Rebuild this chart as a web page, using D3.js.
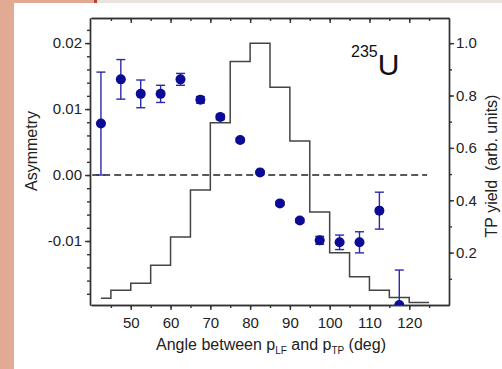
<!DOCTYPE html>
<html>
<head>
<meta charset="utf-8">
<script src="https://cdn.jsdelivr.net/npm/d3@7"></script>
<style>
  body { margin:0; background:#fff; }
  svg { display:block; font-family:"Liberation Sans", Arial, sans-serif; }
  .axis path, .axis line { stroke:#333; stroke-width:1.4; }
  .axis text { font-size:15px; fill:#222; font-family:"Liberation Sans", Arial, sans-serif; }
</style>
</head>
<body>
<script>
// asymmetry points (angle bin centres)
var angles = [42.5,47.5,52.5,57.5,62.5,67.5,72.5,77.5,82.5,87.5,92.5,97.5,102.5,107.5,112.5,117.5];
var asym   = [0.0078,0.0145,0.0123,0.0123,0.0145,0.0114,0.0088,0.0053,0.0004,-0.0043,-0.0069,-0.0099,-0.0102,-0.0102,-0.0054,-0.0197];
var asymErr= [0.0078,0.0030,0.0021,0.0013,0.0009,0.0005,0.0004,0.0003,0.0002,0.0003,0.0003,0.0006,0.0011,0.0016,0.0028,0.0053];

// TP yield histogram, bin starts (last bin ends at histEnd)
var histStart = [42.5,45,50,55,60,65,70,75,80,85,90,95,100,105,110,115,120];
var histYield = [0.026,0.056,0.083,0.152,0.26,0.439,0.696,0.93,1.0,0.832,0.626,0.355,0.2,0.108,0.056,0.029,0.01];
var histEnd = 125;

var xTicks = [50,60,70,80,90,100,110,120];
var yTicks = [-0.01,0.00,0.01,0.02];
var y2Ticks = [0.2,0.4,0.6,0.8,1.0];

var width = 502, height = 369;
var margin = {left:90, right:53, top:18, bottom:64};

var svg = d3.select("body").append("svg")
    .attr("width", width)
    .attr("height", height);

// page frame bits
svg.append("rect").attr("x",0).attr("y",0).attr("width",14).attr("height",height).attr("fill","#e2a993");
svg.append("rect").attr("x",0).attr("y",0).attr("width",94).attr("height",3).attr("fill","#e2a993");
svg.append("rect").attr("x",94).attr("y",0).attr("width",3).attr("height",3).attr("fill","#b5442f");
svg.append("rect").attr("x",97).attr("y",0).attr("width",width-97).attr("height",3).attr("fill","#e9e4dc");

var x = d3.scaleLinear().domain([40,130]).range([margin.left+1, width-margin.right]);
var y = d3.scaleLinear().domain([-0.0197,0.0238]).range([height-margin.bottom, margin.top]);
var y2 = d3.scaleLinear().domain([0,1.096]).range([height-margin.bottom, margin.top]);

// plain hyphen for negatives like the original
var fmt2 = function(d){ return d3.format(".2f")(d).replace("\u2212","-"); };

// axes
var xMinor = d3.range(45,130,5);
var yMinor = d3.range(-0.018,0.0232,0.002);
var y2Minor = d3.range(0.1,1.05,0.1);

svg.append("g").attr("class","axis")
    .attr("transform","translate(0,"+(height-margin.bottom)+")")
    .call(d3.axisBottom(x).tickValues(xMinor).tickSize(3).tickSizeOuter(0).tickFormat(""));
svg.append("g").attr("class","axis")
    .attr("transform","translate(0,"+(height-margin.bottom)+")")
    .call(d3.axisBottom(x).tickValues(xTicks).tickSize(5).tickSizeOuter(0).tickPadding(7));

svg.append("g").attr("class","axis")
    .attr("transform","translate(0,"+margin.top+")")
    .call(d3.axisTop(x).tickValues(xMinor).tickSize(-3).tickSizeOuter(0).tickFormat(""));
svg.append("g").attr("class","axis")
    .attr("transform","translate(0,"+margin.top+")")
    .call(d3.axisTop(x).tickValues(xTicks).tickSize(-5).tickSizeOuter(0).tickFormat(""));

svg.append("g").attr("class","axis")
    .attr("transform","translate("+margin.left+",0)")
    .call(d3.axisLeft(y).tickValues(yMinor).tickSize(3).tickSizeOuter(0).tickFormat(""));
svg.append("g").attr("class","axis")
    .attr("transform","translate("+margin.left+",0)")
    .call(d3.axisLeft(y).tickValues(yTicks).tickSize(5).tickSizeOuter(0).tickPadding(3).tickFormat(fmt2));

svg.append("g").attr("class","axis")
    .attr("transform","translate("+(width-margin.right)+",0)")
    .call(d3.axisRight(y2).tickValues(y2Minor).tickSize(3).tickSizeOuter(0).tickFormat(""));
svg.append("g").attr("class","axis")
    .attr("transform","translate("+(width-margin.right)+",0)")
    .call(d3.axisRight(y2).tickValues(y2Ticks).tickSize(5).tickSizeOuter(0).tickPadding(2).tickFormat(d3.format(".1f")));

// clip to plot area
svg.append("clipPath").attr("id","plot")
  .append("rect")
    .attr("x",margin.left).attr("y",margin.top)
    .attr("width",width-margin.right-margin.left)
    .attr("height",height-margin.bottom-margin.top);

var plot = svg.append("g").attr("clip-path","url(#plot)");

// histogram step line
var histPts = histStart.map(function(d,i){ return [d, histYield[i]]; });
histPts.push([histEnd, histYield[histYield.length-1]]);
var step = d3.line()
    .x(function(d){ return x(d[0]); })
    .y(function(d){ return y2(d[1]); })
    .curve(d3.curveStepAfter);
plot.append("path")
    .attr("d", step(histPts))
    .attr("fill","none")
    .attr("stroke","#444")
    .attr("stroke-width",1.5);

// zero dashed line
plot.append("line")
    .attr("x1",x(40.3)).attr("x2",x(124.5))
    .attr("y1",y(0)).attr("y2",y(0))
    .attr("stroke","#222")
    .attr("stroke-width",1.4)
    .attr("stroke-dasharray","7,4");

// error bars
var eb = plot.selectAll(".eb").data(angles).enter().append("g").attr("class","eb");
eb.append("line")
    .attr("x1",function(d){ return x(d); }).attr("x2",function(d){ return x(d); })
    .attr("y1",function(d,i){ return y(asym[i]-asymErr[i]); })
    .attr("y2",function(d,i){ return y(asym[i]+asymErr[i]); })
    .attr("stroke","#2a2aa8").attr("stroke-width",1.4);
eb.append("line")
    .attr("x1",function(d){ return x(d)-4.5; }).attr("x2",function(d){ return x(d)+4.5; })
    .attr("y1",function(d,i){ return y(asym[i]+asymErr[i]); })
    .attr("y2",function(d,i){ return y(asym[i]+asymErr[i]); })
    .attr("stroke","#2a2aa8").attr("stroke-width",1.4);
eb.append("line")
    .attr("x1",function(d){ return x(d)-4.5; }).attr("x2",function(d){ return x(d)+4.5; })
    .attr("y1",function(d,i){ return y(asym[i]-asymErr[i]); })
    .attr("y2",function(d,i){ return y(asym[i]-asymErr[i]); })
    .attr("stroke","#2a2aa8").attr("stroke-width",1.4);

plot.selectAll(".pt").data(angles).enter().append("circle")
    .attr("class","pt")
    .attr("cx",function(d){ return x(d); })
    .attr("cy",function(d,i){ return y(asym[i]); })
    .attr("r",5)
    .attr("fill","#0b0b96");

// isotope label
var iso = svg.append("text").attr("x",351).attr("y",75).attr("fill","#111");
iso.append("tspan").attr("font-size","16px").attr("dy","-18").text("235");
iso.append("tspan").attr("font-size","30px").attr("dy","18").text("U");

// axis titles
var xt = svg.append("text")
    .attr("x",271).attr("y",350)
    .attr("text-anchor","middle")
    .attr("font-size","16px").attr("fill","#222");
xt.append("tspan").text("Angle between p");
xt.append("tspan").attr("font-size","10px").attr("dy","4").text("LF");
xt.append("tspan").attr("dy","-4").text(" and p");
xt.append("tspan").attr("font-size","10px").attr("dy","4").text("TP");
xt.append("tspan").attr("dy","-4").text(" (deg)");

svg.append("text")
    .attr("transform","translate(37,151) rotate(-90)")
    .attr("text-anchor","middle")
    .attr("font-size","16px").attr("fill","#222")
    .text("Asymmetry");

svg.append("text")
    .attr("transform","translate(497,166) rotate(-90)")
    .attr("text-anchor","middle")
    .attr("font-size","16px").attr("fill","#222")
    .style("white-space","pre")
    .text("TP yield  (arb. units)");
</script>
</body>
</html>
